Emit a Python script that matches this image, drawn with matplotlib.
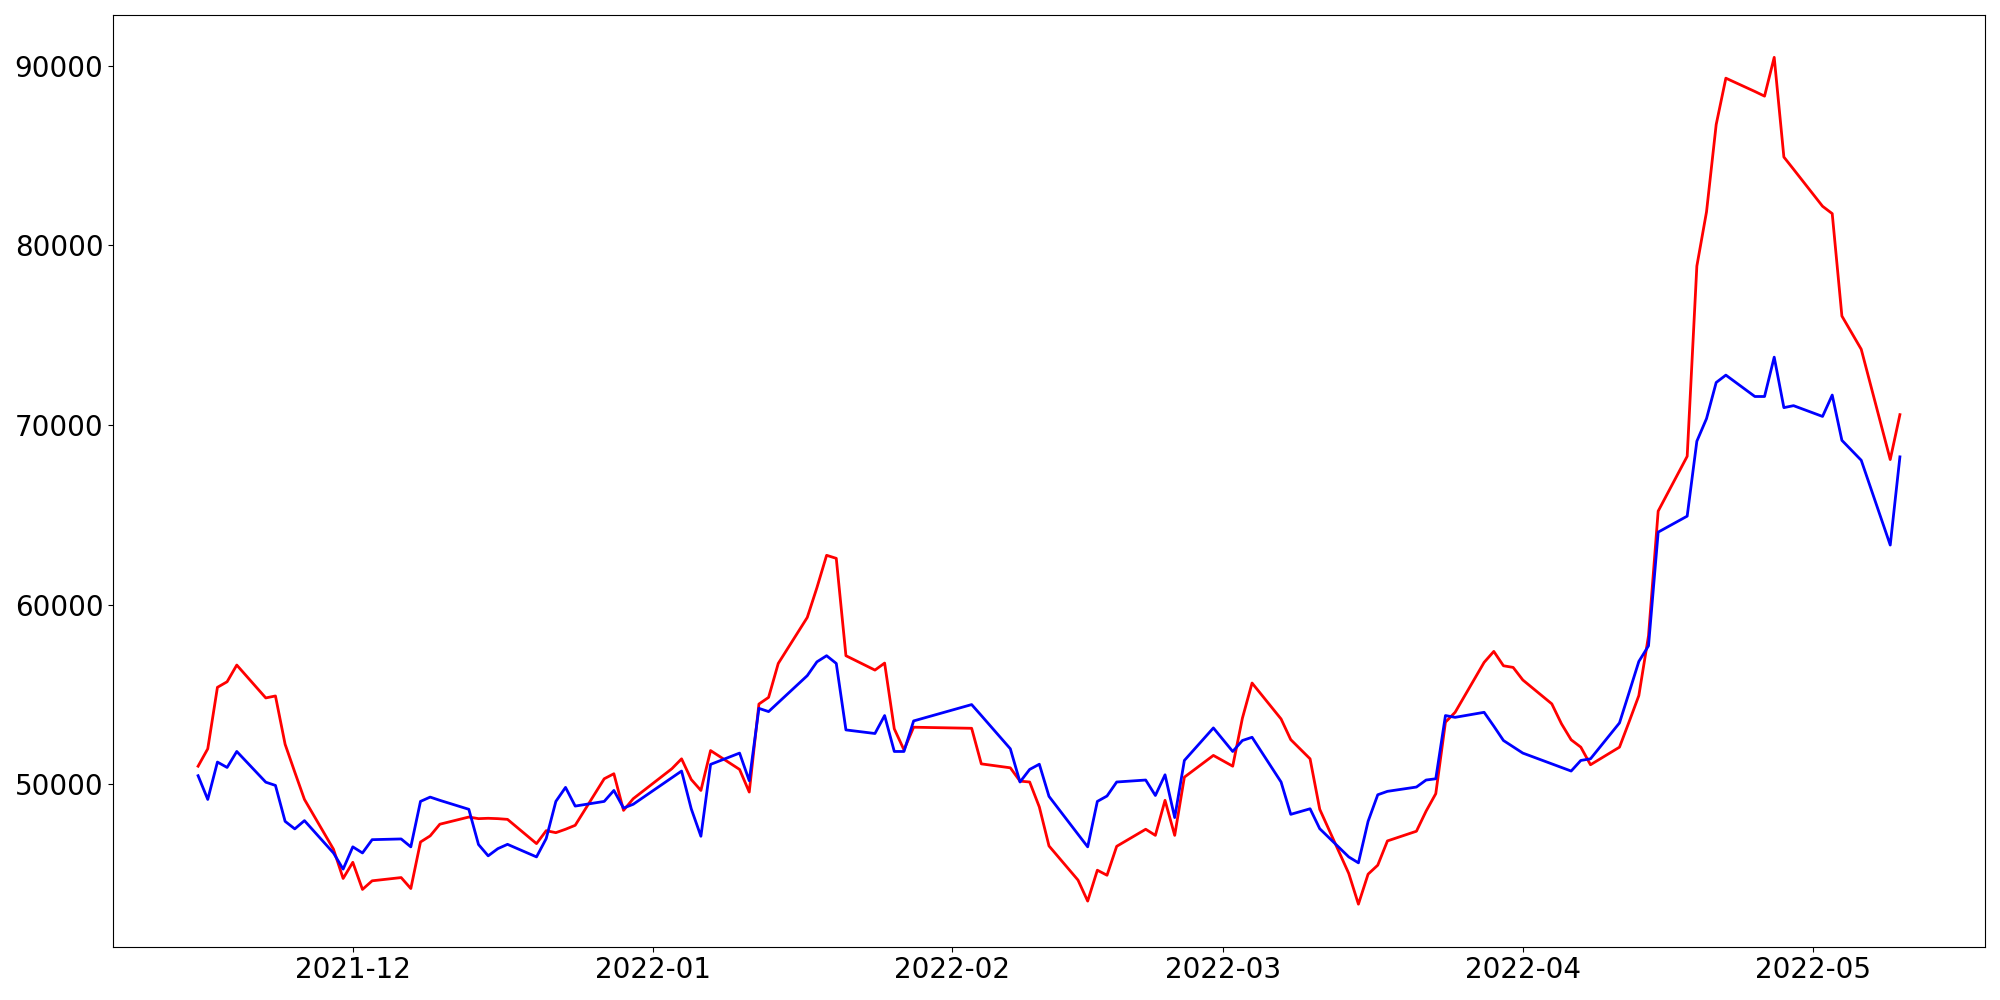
import pandas as pd
import matplotlib
matplotlib.use('Agg')
import matplotlib.pyplot as plt

# trading days (KRX calendar: weekdays minus market holidays)
holidays = ['2021-12-31', '2022-01-31', '2022-02-01', '2022-02-02',
            '2022-03-01', '2022-03-09', '2022-05-05']
dates = pd.bdate_range('2021-11-15', '2022-05-10')
dates = dates[~dates.isin(pd.to_datetime(holidays))]

red_vals = [
    # 2021-11
    51000, 51970, 55390, 55700, 56630, 54800, 54910, 52220, 50670, 49150, 46380, 44750,
    # 2021-12
    45650, 44140, 44620, 44800, 44190, 46780, 47120, 47770, 48170, 48080, 48100,
    48080, 48040, 46690, 47410, 47300, 47490, 47710, 50300, 50580, 48540, 49190,
    # 2022-01
    50860, 51410, 50260, 49650, 51870, 50820, 49560, 54460, 54830, 56720,
    59280, 60940, 62740, 62570, 57150, 56350, 56740, 53080, 51910, 53170,
    # 2022-02
    53110, 51130, 50910, 50170, 50120, 48730, 46560, 44660, 43490, 45210,
    44930, 46540, 47490, 47150, 49100, 47150, 50390, 51600,
    # 2022-03
    51000, 53670, 55630, 53630, 52480, 51410, 48600, 45030, 43320, 44990, 45490,
    46840, 47380, 48500, 49470, 53450, 54000, 56780, 57390, 56590, 56500,
    # 2022-04
    55800, 54470, 53360, 52470, 52060, 51080, 52060, 53480, 54930, 58260, 65200,
    68250, 78840, 81860, 86720, 89300, 88560, 88300, 90460, 84910, 84230,
    # 2022-05
    82170, 81760, 76060, 74210, 68070, 70570,
]

blue_vals = [
    # 2021-11
    50470, 49150, 51230, 50930, 51820, 50110, 49930, 47930, 47510, 47970, 46170, 45270,
    # 2021-12
    46510, 46170, 46910, 46950, 46510, 49040, 49280, 49100, 48600, 46640, 46010,
    46410, 46650, 45950, 46970, 49040, 49820, 48780, 49040, 49650, 48670, 48880,
    # 2022-01
    50360, 50730, 48630, 47100, 51100, 51730, 50190, 54220, 54040, 54540,
    56040, 56810, 57150, 56720, 53020, 52820, 53820, 51820, 51820, 53520,
    # 2022-02
    54430, 53820, 51970, 50120, 50820, 51110, 49320, 47210, 46510, 49040,
    49340, 50120, 50230, 49370, 50520, 48140, 51320, 53130,
    # 2022-03
    51820, 52430, 52610, 50120, 48320, 48630, 47520, 45950, 45620, 47930, 49410,
    49600, 49840, 50230, 50300, 53820, 53720, 54000, 53230, 52430, 52080,
    # 2022-04
    51730, 51130, 50930, 50730, 51320, 51410, 53410, 55110, 56830, 57700, 64030,
    64920, 69090, 70350, 72360, 72770, 71580, 71580, 73770, 70960, 71070,
    # 2022-05
    70470, 71660, 69140, 68030, 63310, 68220,
]

fig, ax = plt.subplots(figsize=(20, 10), dpi=100)
ax.plot(dates, red_vals, color='red', linewidth=2)
ax.plot(dates, blue_vals, color='blue', linewidth=2)
ax.tick_params(axis='both', labelsize=20)
plt.subplots_adjust(left=0.0565, right=0.9925, top=0.985, bottom=0.0535)
plt.savefig('out.png')
